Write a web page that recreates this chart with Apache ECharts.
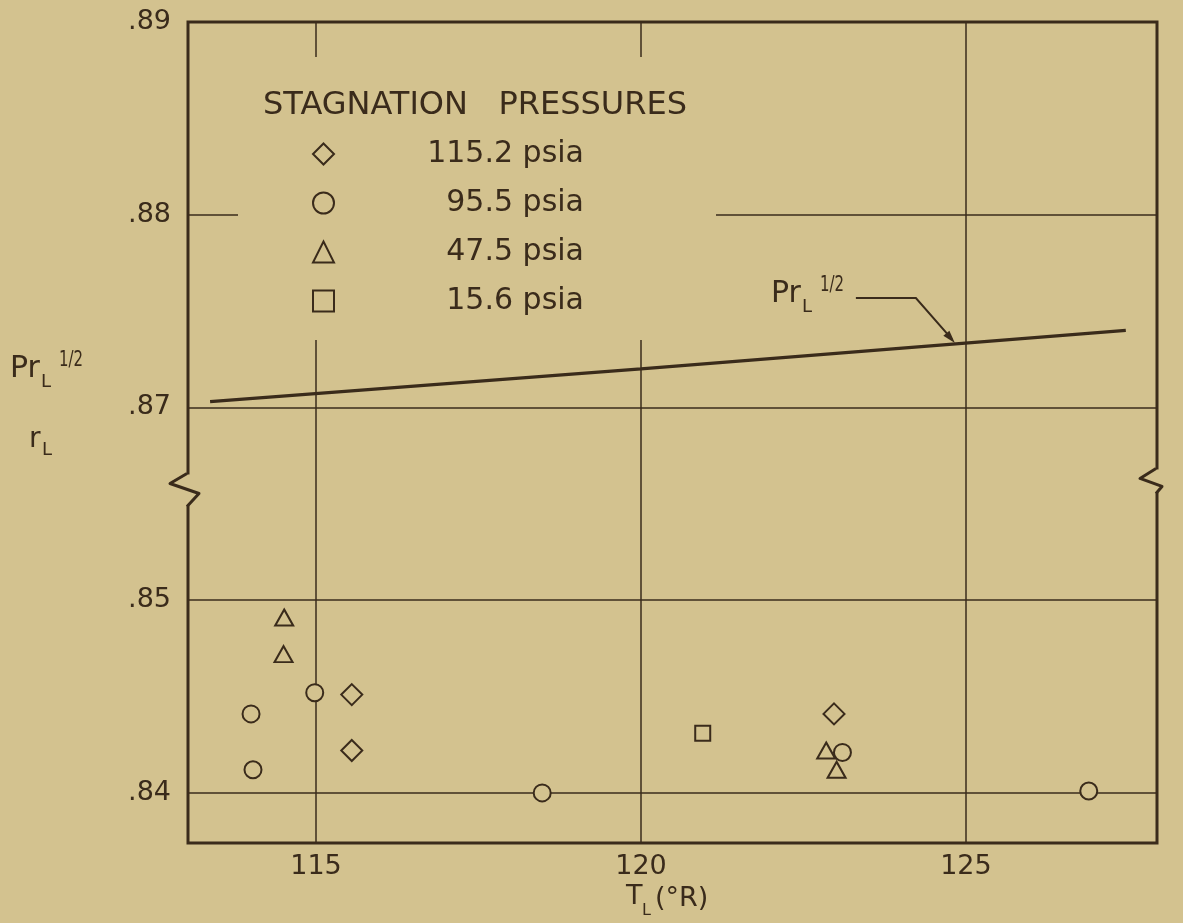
<!DOCTYPE html>
<html><head><meta charset="utf-8">
<script src="https://cdn.jsdelivr.net/npm/echarts@6/dist/echarts.min.js"></script>
<style>html,body{margin:0;padding:0;background:#d3c28f}#c{width:1183px;height:923px}</style>
</head><body><div id="c"></div>
<script>
const xTicks = [115, 120, 125];
const yTicks = [0.84, 0.85, 0.87, 0.88, 0.89];
const seriesNames = ['115.2 psia', '95.5 psia', '47.5 psia', '15.6 psia'];
const p1152 = [[115.55, 0.8451], [115.55, 0.8422], [122.97, 0.8441]];
const p955 = [[114.00, 0.8441], [114.03, 0.8412], [114.98, 0.8452], [118.48, 0.8400], [123.10, 0.8421], [126.89, 0.8401]];
const p475 = [[114.51, 0.8491], [114.50, 0.8472], [122.85, 0.8422], [123.01, 0.8412]];
const p156 = [[120.95, 0.8431]];
const prLine = [[113.37, 0.8703], [120.0, 0.8720], [127.46, 0.8740]];
const xRange = [113.03, 127.94];
const yRange = [0.8374, 0.89];
const arrowTip = [124.83, 0.87334];

// axis break: values below .86 are drawn shifted up by .01 (the .86 band is cut out)
const CUT = 0.86, SHIFT = 0.01;
const toAxis = v => v < CUT ? v + SHIFT : v;
const fromAxis = d => d < CUT + SHIFT / 2 ? d - SHIFT : d;
const mapPts = arr => arr.map(p => [p[0], toAxis(p[1])]);

const BG = '#d3c28f', INK = '#3a2b1b', FONT = 'DejaVu Sans';
const chart = echarts.init(document.getElementById('c'), null, {renderer: 'canvas'});
const mk = (name, sym, size, data) => ({
  name, type: 'scatter', symbol: sym, symbolSize: size, data: mapPts(data), z: 3,
  itemStyle: {color: BG, borderColor: INK, borderWidth: 2, opacity: 1}
});
chart.setOption({
  backgroundColor: BG,
  animation: false,
  textStyle: {fontFamily: FONT, color: INK},
  grid: {left: 188, right: 26, top: 22, bottom: 80, show: true, borderColor: INK, borderWidth: 3, backgroundColor: 'transparent'},
  title: {text: 'STAGNATION   PRESSURES', left: 258, top: 85, textStyle: {fontSize: 32, fontWeight: 'normal', color: INK, fontFamily: FONT}},
  legend: {
    data: seriesNames, orient: 'vertical', left: 307, top: 134, itemWidth: 21, itemHeight: 21, itemGap: 19,
    selectedMode: false, formatter: n => '{t|' + n + '}',
    textStyle: {color: INK, fontFamily: FONT, rich: {t: {width: 245, align: 'right', fontSize: 30, color: INK, fontFamily: FONT}}}
  },
  xAxis: {
    type: 'value', min: xRange[0], max: xRange[1],
    axisLine: {show: false}, axisTick: {show: false, customValues: xTicks},
    axisLabel: {customValues: xTicks, fontSize: 27, color: INK, fontFamily: FONT, margin: 10},
    splitLine: {show: true, lineStyle: {color: INK, width: 1.5}}
  },
  yAxis: {
    type: 'value', min: toAxis(yRange[0]), max: yRange[1],
    axisLine: {show: false}, axisTick: {show: false, customValues: yTicks.map(toAxis)},
    axisLabel: {customValues: yTicks.map(toAxis), fontSize: 27, color: INK, fontFamily: FONT, margin: 17,
      formatter: d => fromAxis(d).toFixed(2).replace(/^0/, '')},
    splitLine: {show: true, lineStyle: {color: INK, width: 1.5}}
  },
  series: [
    mk(seriesNames[0], 'diamond', [21, 21], p1152),
    mk(seriesNames[1], 'circle', 17, p955),
    mk(seriesNames[2], 'triangle', [18, 16], p475),
    mk(seriesNames[3], 'rect', 15, p156),
    {name: 'Pr_L^1/2', type: 'line', data: mapPts(prLine), symbol: 'none', z: 2,
      lineStyle: {color: INK, width: 3.2}}
  ]
});

// ---- annotations drawn in pixel space from axis conversions ----
const px = p => chart.convertToPixel({gridIndex: 0}, [p[0], toAxis(p[1])]);
const g = [];
const txt = (x, y, s, fs, sx) => ({type: 'text', x, y, z: 10, scaleX: sx || 1,
  style: {text: s, fontSize: fs, fontFamily: FONT, fill: INK, align: 'left', verticalAlign: 'middle'}});
const prLabel = (x0, yc) => [txt(x0, yc, 'Pr', 30), txt(x0 + 31, yc + 13, 'L', 18), txt(x0 + 49, yc - 9, '1/2', 22, 0.68)];

// gridline mask behind the legend block
g.push({type: 'rect', shape: {x: 238, y: 57, width: 478, height: 283}, style: {fill: BG}, z: 1});

// y axis title
prLabel(10, 369).forEach(e => g.push(e));
g.push(txt(29, 440, 'r', 28));
g.push(txt(42, 450, 'L', 18));

// x axis title
g.push(txt(626, 897, 'T', 27));
g.push(txt(642, 911, 'L', 16));
g.push(txt(655, 899, '(°R)', 27));

// leader arrow
const tip = px(arrowTip);
const elbow = [tip[0] - 39, tip[1] - 45];
const start = [elbow[0] - 60, elbow[1]];
g.push({type: 'polyline', shape: {points: [start, elbow, [tip[0] - 3, tip[1] - 4]]}, style: {stroke: INK, lineWidth: 2, fill: null}, z: 10});
const dx = 39, dy = 45, L = Math.hypot(dx, dy), ux = dx / L, uy = dy / L;
g.push({type: 'polygon', shape: {points: [tip, [tip[0] - 13 * ux - 4 * uy, tip[1] - 13 * uy + 4 * ux], [tip[0] - 13 * ux + 4 * uy, tip[1] - 13 * uy - 4 * ux]]}, style: {fill: INK}, z: 10});
prLabel(start[0] - 85, start[1] - 4).forEach(e => g.push(e));

// axis break zigzags
const yb = px([120, 0.8659])[1];
const gl = 188, gr = 1157;
g.push({type: 'rect', shape: {x: gl - 5, y: yb - 12, width: 10, height: 31}, style: {fill: BG}, z: 9});
g.push({type: 'polyline', shape: {points: [[gl - 1, yb - 13], [gl - 18, yb - 3], [gl + 11, yb + 7], [gl - 1, yb + 20]]}, style: {stroke: INK, lineWidth: 3, fill: null, lineJoin: 'round'}, z: 10});
g.push({type: 'rect', shape: {x: gr - 5, y: yb - 17, width: 10, height: 23}, style: {fill: BG}, z: 9});
g.push({type: 'polyline', shape: {points: [[gr - 1, yb - 18], [gr - 17, yb - 8], [gr + 5, yb], [gr - 1, yb + 7]]}, style: {stroke: INK, lineWidth: 3, fill: null, lineJoin: 'round'}, z: 10});

chart.setOption({graphic: g});
</script>
</body></html>
